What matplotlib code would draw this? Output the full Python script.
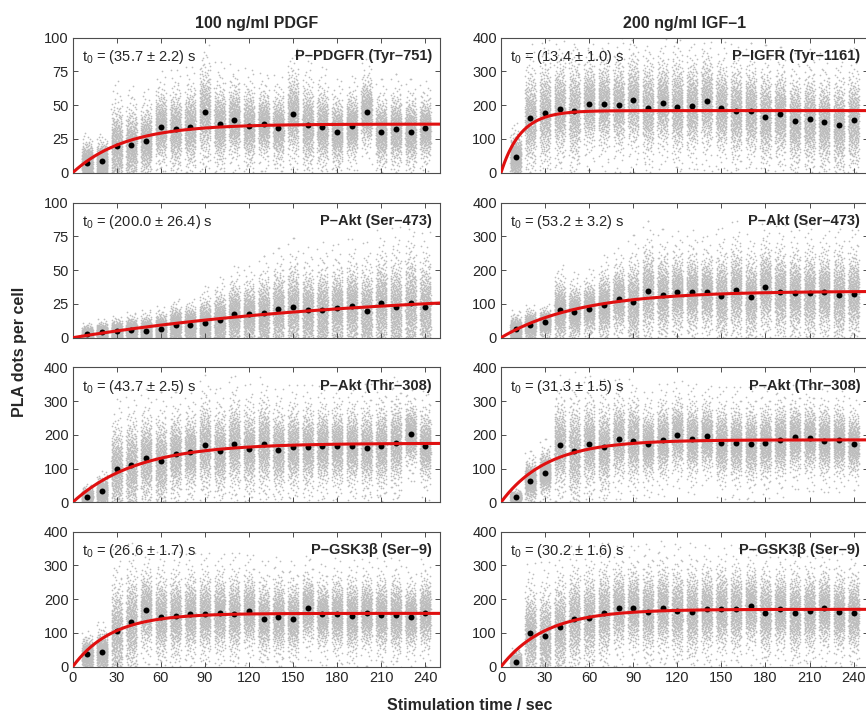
import numpy as np
import matplotlib
matplotlib.use("Agg")
import matplotlib.pyplot as plt

plt.rcParams['font.family'] = ['Liberation Sans', 'DejaVu Sans']
plt.rcParams['mathtext.fontset'] = 'custom'
plt.rcParams['mathtext.rm'] = 'Liberation Sans'
plt.rcParams['mathtext.it'] = 'Liberation Sans'

times = [10, 20, 30, 40, 50, 60, 70, 80, 90, 100, 110, 120,
         130, 140, 150, 160, 170, 180, 190, 200, 210, 220, 230, 240]

col_titles = ["100 ng/ml PDGF", "200 ng/ml IGF\u20131"]
labels = ["P\u2013PDGFR (Tyr\u2013751)", "P\u2013IGFR (Tyr\u20131161)",
          "P\u2013Akt (Ser\u2013473)", "P\u2013Akt (Ser\u2013473)",
          "P\u2013Akt (Thr\u2013308)", "P\u2013Akt (Thr\u2013308)",
          "P\u2013GSK3\u03b2 (Ser\u20139)", "P\u2013GSK3\u03b2 (Ser\u20139)"]
t0_vals = [35.7, 13.4, 200.0, 53.2, 43.7, 31.3, 26.6, 30.2]
t0_errs = [2.2, 1.0, 26.4, 3.2, 2.5, 1.5, 1.7, 1.6]
plateaus = [36, 184, 36, 138, 175, 185, 158, 170]
ymaxes = [100, 400, 100, 400, 400, 400, 400, 400]

# mean dots per panel
means_pdgfr = [7.5, 8.7, 20, 20.8, 23.7, 34.1, 32.2, 34, 44.6, 36, 39, 34.9,
               36.3, 33.2, 43.6, 35, 33.9, 30.3, 34.6, 45.3, 30.5, 32.2, 30.5, 33]
means_igfr = [48, 161, 178, 190, 184, 205, 204, 202, 215, 193, 207, 196,
              197, 212, 192, 182, 184, 166, 174, 153, 158, 149, 142, 156]
means_akt473_pdgf = [2.7, 4, 4.7, 5.7, 5.2, 6.5, 9.2, 9.7, 10.7, 12.9, 17.4, 17.4,
                     18.1, 21.4, 22.6, 20.6, 20.4, 22.3, 23.8, 19.6, 25.8, 22.8, 25.6, 23.1]
means_akt473_igf = [24.7, 36.5, 45.4, 82, 76, 86, 96.8, 115.6, 104.7, 139, 126, 135,
                    134, 135, 123.5, 141, 120.5, 150, 135, 132, 131, 135, 126, 130]
means_akt308_pdgf = [16.8, 33.6, 100, 110, 131, 121, 144, 150, 169, 152, 174, 159,
                     173, 156, 163, 163, 167, 167, 167, 162, 167, 176, 202, 168]
means_akt308_igf = [15.8, 64, 88, 170, 152, 173, 163, 188, 183, 172, 185, 200.5,
                    187, 195.6, 176, 176, 173, 177, 184, 192.6, 190.6, 183, 184, 174]
means_gsk_pdgf = [36.8, 44.6, 106, 133, 168.6, 147.8, 150.7, 155.6, 156.7, 158.5, 155, 165.6,
                  142.7, 148.7, 142.7, 173.5, 155.6, 155.6, 151.6, 160.5, 153.5, 152.5, 147.8, 160]
means_gsk_igf = [15, 100, 91, 118, 142.7, 145.7, 158.7, 174.5, 174.5, 163.5, 174.5, 164,
                 161.7, 170.6, 171.6, 170.6, 179.5, 160.5, 171.6, 158.7, 165.6, 172.6, 161.7, 158.7]

# upper extent of the dense part of each single-cell cloud
tops_pdgfr = [22, 22, 50, 48, 48, 60, 60, 62, 80, 65, 65, 62,
              60, 58, 75, 65, 62, 55, 58, 70, 55, 58, 55, 55]
tops_igfr = [110, 300, 330, 330, 340, 330, 330, 330, 350, 330, 330, 340,
             330, 350, 320, 320, 310, 300, 300, 280, 290, 280, 280, 290]
tops_akt473_pdgf = [8, 10, 12, 14, 15, 17, 22, 22, 28, 33, 40, 40,
                    45, 50, 55, 50, 52, 52, 55, 52, 60, 60, 65, 58]
tops_akt473_igf = [60, 75, 80, 170, 150, 160, 190, 210, 230, 270, 250, 250,
                   250, 240, 250, 270, 240, 270, 260, 250, 260, 250, 260, 250]
tops_akt308_pdgf = [40, 70, 230, 250, 260, 250, 260, 260, 300, 270, 300, 280,
                    300, 270, 280, 280, 280, 280, 280, 280, 290, 300, 290, 270]
tops_akt308_igf = [30, 120, 150, 300, 300, 300, 290, 300, 300, 270, 290, 300,
                   290, 290, 280, 280, 280, 280, 290, 290, 290, 280, 280, 260]
tops_gsk_pdgf = [80, 100, 260, 280, 280, 270, 270, 270, 270, 270, 270, 270,
                 250, 260, 250, 270, 250, 260, 260, 260, 260, 260, 240, 260]
tops_gsk_igf = [40, 230, 230, 260, 280, 280, 290, 290, 290, 290, 300, 290,
                290, 290, 290, 290, 290, 280, 280, 280, 280, 280, 270, 270]

means_all = [means_pdgfr, means_igfr, means_akt473_pdgf, means_akt473_igf,
             means_akt308_pdgf, means_akt308_igf, means_gsk_pdgf, means_gsk_igf]
tops_all = [tops_pdgfr, tops_igfr, tops_akt473_pdgf, tops_akt473_igf,
            tops_akt308_pdgf, tops_akt308_igf, tops_gsk_pdgf, tops_gsk_igf]


def radical_inverse(n, base):
    """Van der Corput radical inverse (deterministic texture coordinates)."""
    n = np.asarray(n, dtype=np.int64).copy()
    out = np.zeros(n.shape, dtype=float)
    f = 1.0 / base
    while np.any(n > 0):
        out += f * (n % base)
        n //= base
        f /= base
    return out


W, H = 866, 718
fig = plt.figure(figsize=(W / 100, H / 100), dpi=100)

col_x = [72.7, 501.0]
ax_w = 367.3
row_bottom = [172.7, 337.7, 502.3, 666.7]
ax_h = 135.0

spine_col = '#4d4d4d'
txt_col = '#262626'

n_pts = 420

for k in range(8):
    r, c = divmod(k, 2)
    left = col_x[c] / W
    bottom = 1 - row_bottom[r] / H
    ax = fig.add_axes([left, bottom, ax_w / W, ax_h / H])
    ymax = ymaxes[k]

    xs, ys = [], []
    for j, (t, m, top) in enumerate(zip(times, means_all[k], tops_all[k])):
        idx = np.arange(n_pts) + 1 + 53 * j + 211 * k
        u = radical_inverse(idx, 2)
        q = radical_inverse(idx, 3)
        q = np.clip(q, 0.003, 0.997)
        s = max(top - m, 1e-3) / 3.66
        yv = np.abs(m + s * np.log(q / (1 - q)))
        xs.append(t + 7.2 * (u - 0.5))
        ys.append(yv)
    ax.scatter(np.concatenate(xs), np.concatenate(ys), s=1.5, c='#bdbdbd',
               linewidths=0, zorder=1)

    ax.plot(times, means_all[k], 'o', color='black', markersize=4.3,
            markeredgewidth=0, zorder=3)

    tt = np.linspace(0, 250, 400)
    ax.plot(tt, plateaus[k] * (1 - np.exp(-tt / t0_vals[k])), color='#e01010',
            linewidth=2.2, zorder=4)

    ax.set_xlim(0, 250)
    ax.set_ylim(0, ymax)
    ax.set_xticks(np.arange(0, 241, 30))
    if ymax == 100:
        ax.set_yticks([0, 25, 50, 75, 100])
    else:
        ax.set_yticks([0, 100, 200, 300, 400])
    ax.tick_params(direction='in', length=3.5, width=0.7, colors=spine_col,
                   labelcolor=txt_col, labelsize=10.5, top=True, right=True,
                   pad=3)
    if r < 3:
        ax.set_xticklabels([])
    for sp in ax.spines.values():
        sp.set_color(spine_col)
        sp.set_linewidth(0.8)

    ax.text(0.024, 0.855, r'$\mathrm{t}_0$' + ' = (%.1f \u00b1 %.1f) s' % (t0_vals[k], t0_errs[k]),
            transform=ax.transAxes, ha='left', va='center', fontsize=10.5,
            color=txt_col, zorder=5)
    ax.text(0.978, 0.865, labels[k], transform=ax.transAxes, ha='right',
            va='center', fontsize=10.5, fontweight='bold', color=txt_col, zorder=5)

    if r == 0:
        ax.set_title(col_titles[c], fontsize=11.5, fontweight='bold',
                     color=txt_col, pad=7)

fig.text(20 / W, 1 - 352 / H, 'PLA dots per cell', rotation=90, ha='center',
         va='center', fontsize=11.5, fontweight='bold', color=txt_col)
fig.text(470 / W, 1 - 706 / H, 'Stimulation time / sec', ha='center',
         va='center', fontsize=11.5, fontweight='bold', color=txt_col)

fig.savefig('out.png', dpi=100)
